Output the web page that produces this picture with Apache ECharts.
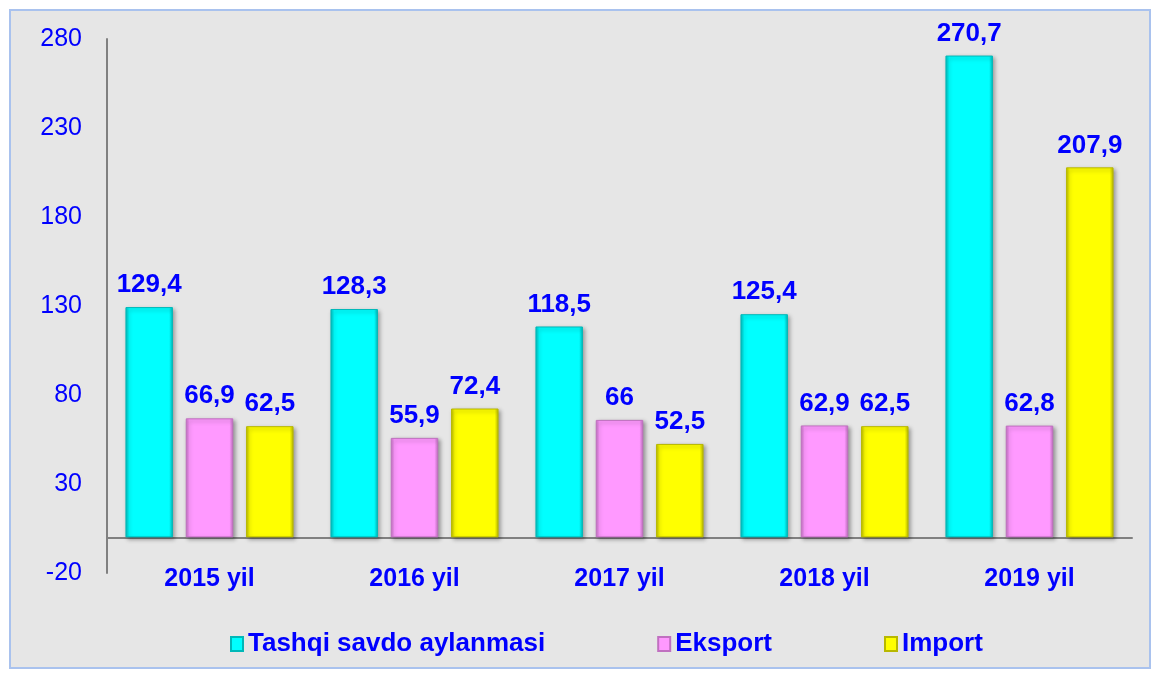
<!DOCTYPE html>
<html>
<head>
<meta charset="utf-8">
<script src="https://cdn.jsdelivr.net/npm/echarts@6/dist/echarts.min.js"></script>
<style>
  html, body { margin: 0; padding: 0; background: #fff; }
  #chart { width: 1152px; height: 674px; }
</style>
</head>
<body>
<div id="chart"></div>
<script>
// 数据
var years = ['2015 yil', '2016 yil', '2017 yil', '2018 yil', '2019 yil']
var tashqi = [129.4, 128.3, 118.5, 125.4, 270.7]
var eksport = [66.9, 55.9, 66, 62.9, 62.8]
var importV = [62.5, 72.4, 52.5, 62.5, 207.9]
var seriesNames = ['Tashqi savdo aylanmasi', 'Eksport', 'Import']

var font = '"Liberation Sans", Arial, sans-serif'
var blue = '#0000ff'

// 3D 效果的渐变
function bevel(main, edge) {
  return new echarts.graphic.LinearGradient(0, 0, 1, 0, [
    { offset: 0, color: edge },
    { offset: 0.08, color: main },
    { offset: 0.92, color: main },
    { offset: 1, color: edge }
  ])
}

function makeSeries(name, data, main, edge) {
  return {
    name: name,
    type: 'bar',
    data: data,
    barGap: '27%',
    barCategoryGap: '18%',
    itemStyle: {
      color: bevel(main, edge),
      borderColor: edge,
      borderWidth: 1,
      shadowColor: 'rgba(0,0,0,0.35)',
      shadowBlur: 4,
      shadowOffsetX: 2,
      shadowOffsetY: 2
    },
    label: {
      show: true,
      position: 'top',
      distance: 9,
      color: blue,
      fontFamily: font,
      fontWeight: 'bold',
      fontSize: 26,
      formatter: function (p) { return String(p.value).replace('.', ',') }
    }
  }
}

var chart = echarts.init(document.getElementById('chart'))
var option = {
  backgroundColor: '#ffffff',
  animation: false,
  graphic: [{
    type: 'rect',
    z: -10,
    shape: { x: 10, y: 10, width: 1140, height: 658 },
    style: { fill: '#e6e6e6', stroke: '#a9c2ee', lineWidth: 2 }
  }],
  grid: { left: 107, right: 20, top: 39, bottom: 101, containLabel: false },
  legend: {
    top: 626,
    left: 225,
    itemGap: 112,
    itemWidth: 12,
    itemHeight: 14,
    icon: 'rect',
    textStyle: { color: blue, fontFamily: font, fontWeight: 'bold', fontSize: 26 },
    data: seriesNames
  },
  xAxis: {
    type: 'category',
    data: years,
    axisLine: { onZero: true, lineStyle: { color: '#808080', width: 2 } },
    axisTick: { show: false },
    axisLabel: { color: blue, fontFamily: font, fontWeight: 'bold', fontSize: 25, margin: -6 }
  },
  yAxis: {
    type: 'value',
    min: -20,
    max: 280,
    interval: 50,
    axisLine: { show: true, lineStyle: { color: '#808080', width: 2 } },
    axisTick: { show: false },
    splitLine: { show: false },
    axisLabel: { color: blue, fontFamily: font, fontSize: 25, margin: 25 }
  },
  series: [
    makeSeries(seriesNames[0], tashqi, '#00ffff', '#00b8b8'),
    makeSeries(seriesNames[1], eksport, '#ff99ff', '#c070c0'),
    makeSeries(seriesNames[2], importV, '#ffff00', '#b8b800')
  ]
}
chart.setOption(option)
</script>
</body>
</html>
